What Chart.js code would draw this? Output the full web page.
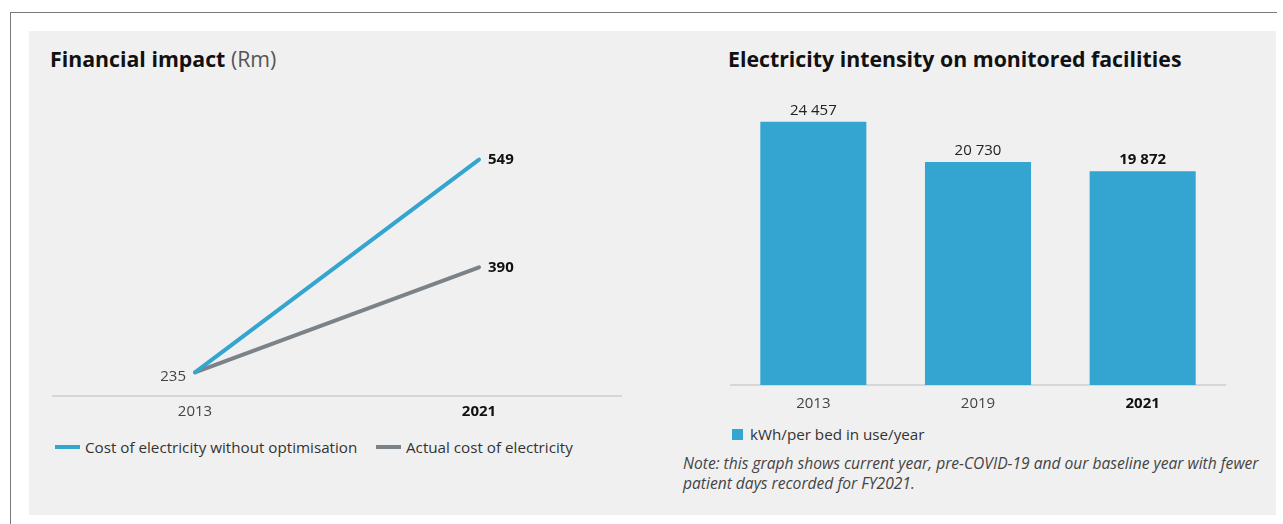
<!DOCTYPE html>
<html lang="en">
<head>
    <meta charset="UTF-8">
    <title>Financial impact and electricity intensity</title>
    <style>
        body {
            margin: 0;
            width: 1283px;
            height: 524px;
            background: #fff;
            font-family: "Open Sans", sans-serif;
            position: relative;
            overflow: hidden;
        }

        #frame-top {
            position: absolute;
            left: 10px;
            top: 12px;
            width: 1267px;
            height: 0;
            border-top: 1.5px solid #7a7a7a;
        }

        #frame-left {
            position: absolute;
            left: 10px;
            top: 12px;
            width: 0;
            height: 520px;
            border-left: 1.5px solid #7a7a7a;
        }

        #panel {
            position: absolute;
            left: 29px;
            top: 31px;
            width: 1247px;
            height: 484px;
            background: #f0f0f0;
        }

        .title {
            position: absolute;
            top: 44px;
            font-size: 21.3px;
            font-weight: bold;
            color: #111;
            white-space: nowrap;
        }

        .title span {
            font-weight: normal;
            color: #555;
        }

        canvas {
            position: absolute;
        }

        .legend {
            position: absolute;
            font-size: 15.2px;
            color: #333;
            white-space: nowrap;
        }

        .legend .item {
            position: absolute;
            top: 0;
            display: flex;
            align-items: center;
            height: 20px;
        }

        .legend .line {
            width: 25px;
            height: 4px;
            margin-right: 5px;
        }

        .legend .box {
            width: 11px;
            height: 11px;
            margin-right: 7px;
        }

        #note {
            position: absolute;
            left: 683px;
            top: 453px;
            font-size: 15.6px;
            font-style: italic;
            line-height: 20px;
            color: #444;
            width: 590px;
        }
    </style>
</head>
<body>
    <div id="frame-top"></div>
    <div id="frame-left"></div>
    <div id="panel"></div>

    <div class="title" style="left: 50px;">Financial impact <span>(Rm)</span></div>
    <div class="title" style="left: 728px;">Electricity intensity on monitored facilities</div>

    <canvas id="line-chart" width="600" height="340" style="left: 40px; top: 90px;"></canvas>
    <canvas id="bar-chart" width="560" height="330" style="left: 700px; top: 90px;"></canvas>

    <div class="legend" id="line-legend" style="left: 55px; top: 437px;"></div>
    <div class="legend" id="bar-legend" style="left: 732px; top: 424px;"></div>

    <div id="note">Note: this graph shows current year, pre-COVID-19 and our baseline year with fewer patient days recorded for FY2021.</div>

    <script src="https://cdn.jsdelivr.net/npm/chart.js"></script>

    <script>
        // Financial impact (Rm)
        const lineYears = ['2013', '2021'];
        const withoutOptimisation = [235, 549];
        const actualCost = [235, 390];

        // Electricity intensity, kWh per bed in use per year
        const barYears = ['2013', '2019', '2021'];
        const intensity = [24457, 20730, 19872];

        const blue = '#34a4d0';
        const grey = '#7b8389';

        Chart.defaults.font.family = "'Open Sans', sans-serif";
        Chart.defaults.font.size = 15;
        Chart.defaults.color = '#444';

        function spaced(n) {
            return String(n).replace(/\B(?=(\d{3})+(?!\d))/g, ' ');
        }

        // last category gets bold, dark tick text
        const tickFont = ctx => ({ size: 15, weight: ctx.index === ctx.chart.data.labels.length - 1 ? 'bold' : 'normal' });
        const tickColor = ctx => ctx.index === ctx.chart.data.labels.length - 1 ? '#111' : '#444';

        const lineLabels = {
            id: 'lineLabels',
            afterDatasetsDraw(chart) {
                const ctx = chart.ctx;
                ctx.save();
                ctx.textBaseline = 'middle';
                chart.data.datasets.forEach((ds, i) => {
                    chart.getDatasetMeta(i).data.forEach((p, j) => {
                        if (j === 0) {
                            // shared starting value, drawn once
                            if (i > 0) return;
                            ctx.font = "15px 'Open Sans'";
                            ctx.fillStyle = '#444';
                            ctx.textAlign = 'right';
                            ctx.fillText(ds.data[j], p.x - 9, p.y + 4);
                        } else {
                            ctx.font = "bold 15px 'Open Sans'";
                            ctx.fillStyle = '#111';
                            ctx.textAlign = 'left';
                            ctx.fillText(ds.data[j], p.x + 9, p.y);
                        }
                    });
                });
                ctx.restore();
            }
        };

        const barLabels = {
            id: 'barLabels',
            afterDatasetsDraw(chart) {
                const ctx = chart.ctx;
                const last = chart.data.labels.length - 1;
                ctx.save();
                ctx.textAlign = 'center';
                ctx.textBaseline = 'bottom';
                chart.getDatasetMeta(0).data.forEach((bar, j) => {
                    ctx.font = (j === last ? 'bold ' : '') + "15px 'Open Sans'";
                    ctx.fillStyle = j === last ? '#111' : '#222';
                    ctx.fillText(spaced(chart.data.datasets[0].data[j]), bar.x, bar.y - 4);
                });
                ctx.restore();
            }
        };

        function drawCharts() {
            const lineChart = new Chart(document.getElementById('line-chart'), {
                type: 'line',
                data: {
                    labels: lineYears,
                    datasets: [
                        { label: 'Cost of electricity without optimisation', data: withoutOptimisation, borderColor: blue, backgroundColor: blue },
                        { label: 'Actual cost of electricity', data: actualCost, borderColor: grey, backgroundColor: grey }
                    ]
                },
                options: {
                    responsive: false,
                    animation: false,
                    layout: { padding: { left: 13, right: 19, top: 35, bottom: 0 } },
                    elements: {
                        line: { borderWidth: 4, tension: 0, borderCapStyle: 'round' },
                        point: { radius: 0, hoverRadius: 0 }
                    },
                    scales: {
                        x: {
                            offset: true,
                            grid: { display: false, drawTicks: false },
                            border: { display: true, color: '#d6d6d6', width: 2 },
                            ticks: { padding: 7, font: tickFont, color: tickColor },
                            afterFit(scale) { scale.height = 34; }
                        },
                        y: { display: false, min: 200, max: 600 }
                    },
                    plugins: { legend: { display: false }, tooltip: { enabled: false } }
                },
                plugins: [lineLabels]
            });

            const barChart = new Chart(document.getElementById('bar-chart'), {
                type: 'bar',
                data: {
                    labels: barYears,
                    datasets: [
                        { label: 'kWh/per bed in use/year', data: intensity, backgroundColor: blue }
                    ]
                },
                options: {
                    responsive: false,
                    animation: false,
                    layout: { padding: { left: 31, right: 35, top: 26, bottom: 0 } },
                    datasets: { bar: { barPercentage: 0.644, categoryPercentage: 1 } },
                    scales: {
                        x: {
                            grid: { display: false, drawTicks: false },
                            border: { display: true, color: '#d6d6d6', width: 2 },
                            ticks: { padding: 10, font: tickFont, color: tickColor },
                            afterFit(scale) { scale.height = 35; }
                        },
                        y: { display: false, min: 0, max: 25000 }
                    },
                    plugins: { legend: { display: false }, tooltip: { enabled: false } }
                },
                plugins: [barLabels]
            });

            // legends built from the datasets
            const lineLegend = document.getElementById('line-legend');
            const legendX = [0, 321];
            lineChart.data.datasets.forEach((ds, i) => {
                lineLegend.innerHTML += `<div class="item" style="left:${legendX[i]}px"><span class="line" style="background:${ds.borderColor}"></span>${ds.label}</div>`;
            });
            const barLegend = document.getElementById('bar-legend');
            barChart.data.datasets.forEach(ds => {
                barLegend.innerHTML += `<div class="item" style="left:0"><span class="box" style="background:${ds.backgroundColor}"></span>${ds.label}</div>`;
            });
        }

        Promise.all([
            document.fonts.load("15px 'Open Sans'"),
            document.fonts.load("bold 15px 'Open Sans'")
        ]).then(drawCharts, drawCharts);
    </script>
</body>
</html>
